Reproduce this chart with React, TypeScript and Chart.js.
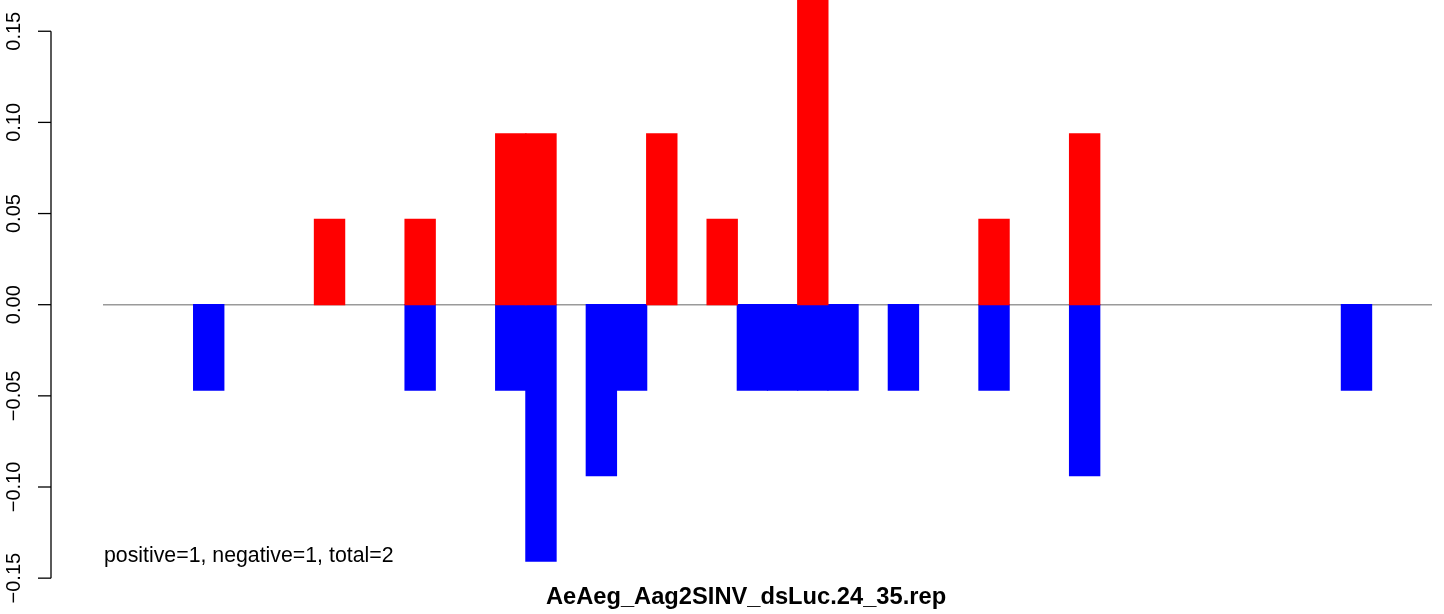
import React, { useEffect, useRef } from "react";
import { Chart, registerables } from "chart.js";

Chart.register(...registerables);

const U = 0.046875;
const slots: string[] = Array.from({ length: 44 }, (_, i) => String(i + 1));
const positiveValues: (number | null)[] = [
  null, null, null, null, null, null, null, U, null, null,
  U, null, null, 2 * U, 2 * U, null, null, null, 2 * U, null,
  U, null, null, 4 * U, null, null, null, null, null, U,
  null, null, 2 * U, null, null, null, null, null, null, null,
  null, null, null, null,
];
const negativeValues: (number | null)[] = [
  null, null, null, -U, null, null, null, null, null, null,
  -U, null, null, -U, -3 * U, null, -2 * U, -U, null, null,
  null, -U, -U, -U, -U, null, -U, null, null, -U,
  null, null, -2 * U, null, null, null, null, null, null, null,
  null, -U, null, null,
];
const yTicks: number[] = [-0.15, -0.1, -0.05, 0, 0.05, 0.1, 0.15];
const yTickLabels: string[] = ["\u22120.15", "\u22120.10", "\u22120.05", "0.00", "0.05", "0.10", "0.15"];
const titleText = "AeAeg_Aag2SINV_dsLuc.24_35.rep";
const noteText = "positive=1, negative=1, total=2";

const FONT = "'Liberation Sans', Arial, Helvetica, sans-serif";

const decorPlugin = {
  id: "rDecor",
  beforeDatasetsDraw(chart: any) {
    const { ctx, chartArea, scales } = chart;
    const y0 = scales.y.getPixelForValue(0);
    ctx.save();
    ctx.strokeStyle = "#9a9a9a";
    ctx.lineWidth = 1.4;
    ctx.beginPath();
    ctx.moveTo(chartArea.left, y0);
    ctx.lineTo(chartArea.right, y0);
    ctx.stroke();
    ctx.restore();
  },
  afterDraw(chart: any) {
    const { ctx, chartArea, scales } = chart;
    const ys = scales.y;
    const axisX = chartArea.left - 52;
    ctx.save();
    ctx.strokeStyle = "#000";
    ctx.lineWidth = 1.3;
    ctx.beginPath();
    ctx.moveTo(axisX, ys.getPixelForValue(yTicks[0]));
    ctx.lineTo(axisX, ys.getPixelForValue(yTicks[yTicks.length - 1]));
    ctx.stroke();
    ctx.fillStyle = "#000";
    ctx.font = `20px ${FONT}`;
    ctx.textAlign = "center";
    ctx.textBaseline = "alphabetic";
    yTicks.forEach((v, i) => {
      const py = ys.getPixelForValue(v);
      ctx.beginPath();
      ctx.moveTo(axisX, py);
      ctx.lineTo(axisX - 13, py);
      ctx.stroke();
      ctx.save();
      ctx.translate(axisX - 31, py);
      ctx.rotate(-Math.PI / 2);
      ctx.fillText(yTickLabels[i], 0, 0);
      ctx.restore();
    });
    ctx.font = `21.3px ${FONT}`;
    ctx.textAlign = "left";
    ctx.fillText(noteText, chartArea.left + 1, ys.getPixelForValue(-0.15) - 16);
    ctx.font = `bold 23.7px ${FONT}`;
    ctx.textAlign = "center";
    ctx.fillText(titleText, chartArea.left + 643, chartArea.bottom + 26);
    ctx.restore();
  },
};

export default function App() {
  const ref = useRef<HTMLCanvasElement | null>(null);
  useEffect(() => {
    document.body.style.margin = "0";
    const canvas = ref.current;
    if (!canvas) return;
    const chart = new Chart(canvas, {
      type: "bar",
      data: {
        labels: slots,
        datasets: [
          {
            label: "positive",
            data: positiveValues,
            backgroundColor: "#ff0000",
            borderWidth: 0,
            inflateAmount: 0.6,
            barPercentage: 1,
            categoryPercentage: 1,
          },
          {
            label: "negative",
            data: negativeValues,
            backgroundColor: "#0000ff",
            borderWidth: 0,
            inflateAmount: 0.6,
            barPercentage: 1,
            categoryPercentage: 1,
          },
        ],
      },
      options: {
        animation: false,
        responsive: false,
        maintainAspectRatio: false,
        devicePixelRatio: 1,
        layout: { padding: { left: 103, right: 12, top: 0, bottom: 35.85 } },
        plugins: { legend: { display: false }, tooltip: { enabled: false } },
        scales: {
          x: { stacked: true, display: false, offset: true, grid: { display: false } },
          y: { stacked: true, display: false, min: -0.15, max: 0.16714, grid: { display: false } },
        },
      },
      plugins: [decorPlugin],
    });
    return () => chart.destroy();
  }, []);
  return (
    <div style={{ position: "absolute", left: 0, top: 0, width: 1444, height: 614, background: "#fff" }}>
      <canvas ref={ref} width={1444} height={614} style={{ display: "block" }} />
    </div>
  );
}
